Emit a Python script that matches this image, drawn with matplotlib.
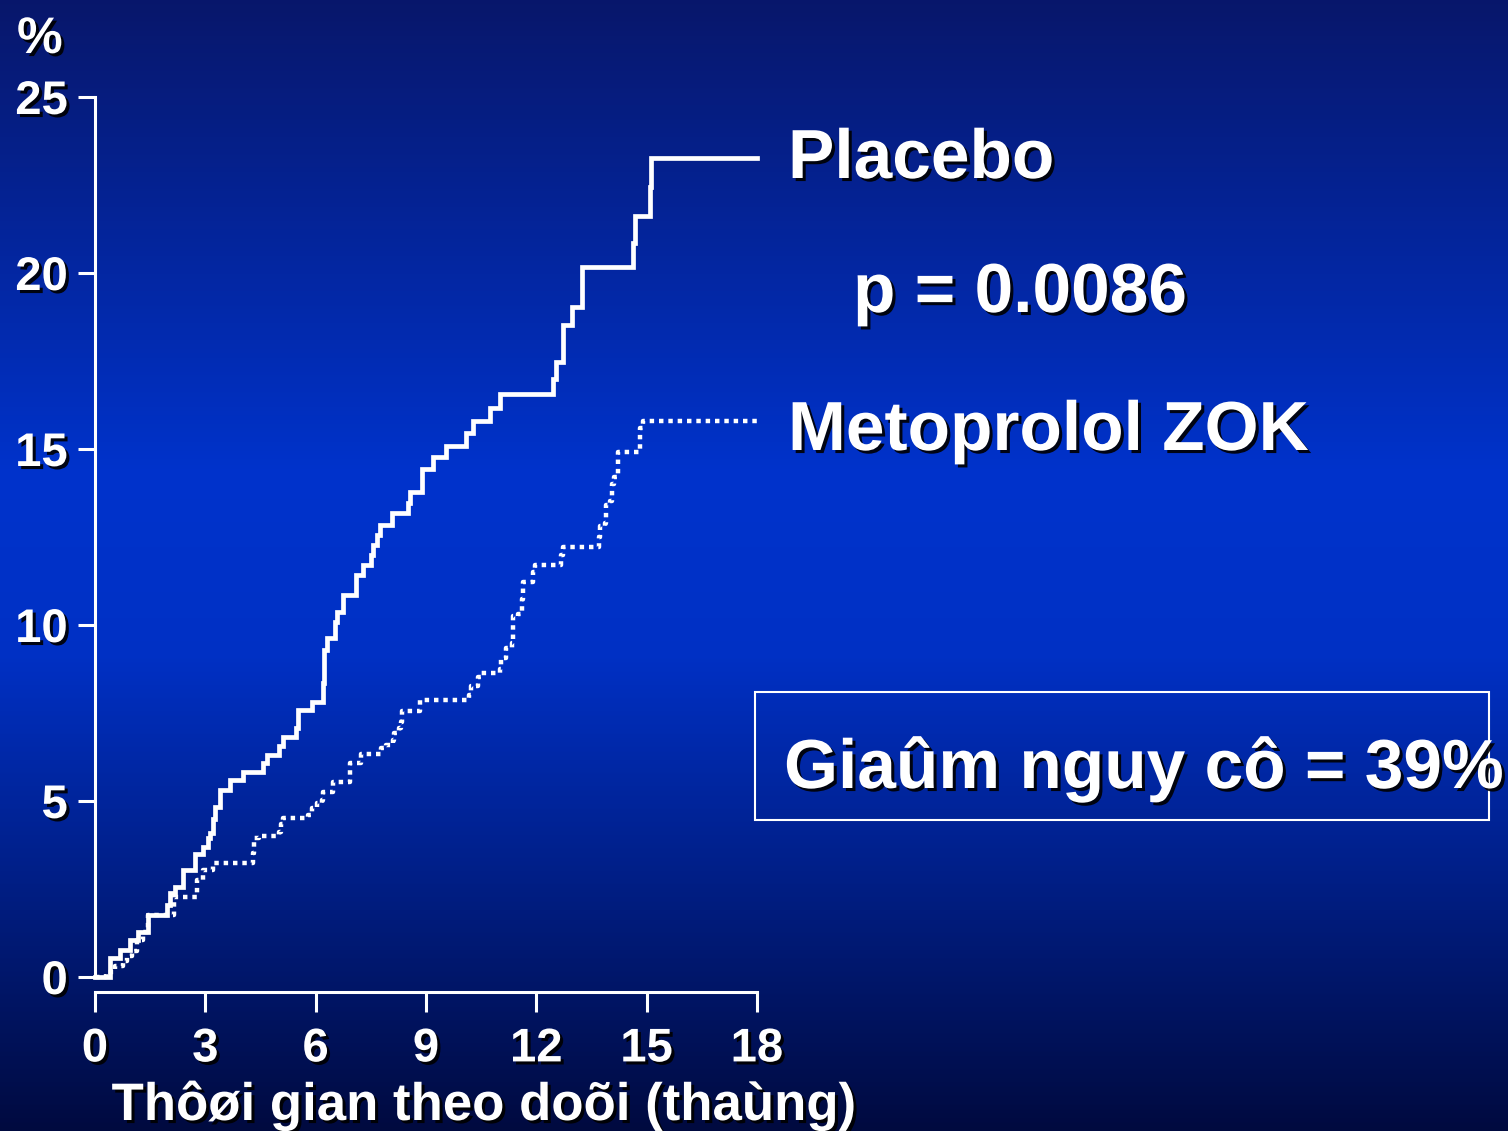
import matplotlib.pyplot as plt
import matplotlib.patheffects as pe
from matplotlib.patches import Rectangle
from matplotlib.colors import LinearSegmentedColormap
import numpy as np

# cumulative event curves, % by month of follow-up
placebo_months = [0, 0.41, 0.68, 0.95, 1.17, 1.44, 1.96, 2.04, 2.18, 2.39,
                  2.72, 2.95, 3.07, 3.13, 3.2, 3.26, 3.4, 3.67, 4.02, 4.57,
                  4.68, 5.0, 5.11, 5.47, 5.52, 5.9, 6.2, 6.23, 6.3, 6.53,
                  6.58, 6.74, 7.1, 7.29, 7.5, 7.56, 7.67, 7.75, 8.07, 8.51,
                  8.56, 8.89, 9.2, 9.54, 10.08, 10.29, 10.74, 11.01, 12.46, 12.53,
                  12.73, 12.96, 13.24, 14.64, 14.68, 15.09, 15.13, 18.0]
placebo_pct = [0, 0.54, 0.77, 1.05, 1.28, 1.76, 2.05, 2.38, 2.56, 3.04,
               3.5, 3.7, 3.95, 4.1, 4.5, 4.83, 5.31, 5.6, 5.82, 6.08,
               6.31, 6.55, 6.82, 7.07, 7.59, 7.81, 8.35, 9.29, 9.63, 10.09,
               10.37, 10.85, 11.42, 11.7, 11.99, 12.27, 12.56, 12.84, 13.18, 13.47,
               13.78, 14.42, 14.76, 15.08, 15.46, 15.8, 16.16, 16.55, 17.0, 17.47,
               18.52, 19.03, 20.16, 20.84, 21.62, 22.45, 23.28, 23.28]

meto_months = [0, 0.3, 0.55, 0.75, 0.88, 1.0, 1.15, 1.3, 1.45,
               2.15, 2.77, 2.95, 3.2, 4.3, 4.33, 4.45, 5.0, 5.05, 5.1,
               5.8, 5.9, 6.03, 6.17, 6.2, 6.47, 6.93, 7.23,
               7.77, 7.9, 8.1, 8.13, 8.27, 8.33, 8.36, 8.84,
               10.18, 10.22, 10.41, 10.5, 11.0, 11.03, 11.17, 11.33, 11.36,
               11.5, 11.6, 11.62, 11.65, 11.9, 11.96, 12.67, 12.73,
               13.7, 13.72, 13.87, 13.9, 14.0, 14.06, 14.1, 14.22,
               14.82, 14.9, 18.0]
meto_pct = [0, 0.15, 0.3, 0.45, 0.6, 0.75, 1.05, 1.28, 1.76,
            2.27, 2.76, 3.04, 3.24, 3.52, 3.95, 4.0, 4.12, 4.35, 4.52,
            4.6, 4.8, 4.94, 5.03, 5.26, 5.55, 6.08, 6.33,
            6.5, 6.6, 6.73, 6.93, 7.06, 7.24, 7.55, 7.87,
            8.0, 8.27, 8.52, 8.64, 8.75, 9.06, 9.35, 9.5, 10.25,
            10.3, 10.48, 10.73, 11.22, 11.5, 11.7, 12.0, 12.23,
            12.5, 12.8, 12.9, 13.4, 13.52, 14.0, 14.2, 14.92,
            15.6, 15.8, 15.8]

x_ticks = [0, 3, 6, 9, 12, 15, 18]
y_ticks = [0, 5, 10, 15, 20, 25]

W, H = 1508, 1131
plt.rcParams['font.family'] = ['Liberation Sans', 'DejaVu Sans']
plt.rcParams['font.weight'] = 'bold'

shadow = [pe.SimplePatchShadow(offset=(2.2, -2.2), shadow_rgbFace='black', alpha=0.9),
          pe.Normal()]

fig = plt.figure(figsize=(W / 100, H / 100), dpi=100)


def fx(px):
    return px / W


def fy(py):
    return (H - py) / H


# slide background: dark navy at the edges, brighter blue through the middle
bg = fig.add_axes([0, 0, 1, 1], zorder=0)
cmap = LinearSegmentedColormap.from_list('slide', [
    (0.0, (0.03, 0.09, 0.42)),
    (0.42, (0.0, 0.20, 0.80)),
    (0.58, (0.0, 0.19, 0.77)),
    (1.0, (0.0, 0.04, 0.25)),
])
bg.imshow(np.linspace(0, 1, 512).reshape(-1, 1), cmap=cmap, aspect='auto',
          extent=[0, 1, 0, 1], origin='upper')
bg.set_axis_off()

ax = fig.add_axes([fx(95), fy(977), fx(757) - fx(95), fy(97) - fy(977)], zorder=1)
ax.set_facecolor('none')

ax.step(meto_months, meto_pct, where='post', color='white', lw=3.2,
        linestyle=(0, (1.0, 1.1)), clip_on=False)
ax.step(placebo_months, placebo_pct, where='post', color='white', lw=3.4,
        clip_on=False, solid_joinstyle='miter')

ax.set_xlim(0, 18)
ax.set_ylim(0, 25)
ax.set_xticks(x_ticks)
ax.set_yticks(y_ticks)

for side in ['top', 'right']:
    ax.spines[side].set_visible(False)
for side in ['left', 'bottom']:
    ax.spines[side].set_color('white')
    ax.spines[side].set_linewidth(2.2)
ax.spines['bottom'].set_position(('outward', 10.8))

ax.tick_params(axis='y', direction='out', length=12.5, width=2.2, color='white',
               labelcolor='white', labelsize=34, pad=7)
ax.tick_params(axis='x', direction='out', length=14.5, width=2.2, color='white',
               labelcolor='white', labelsize=34, pad=11)
for lab in ax.get_xticklabels() + ax.get_yticklabels():
    lab.set_path_effects(shadow)
    lab.set_fontweight('bold')

txt = dict(color='white', fontweight='bold', path_effects=shadow)

fig.text(fx(17), fy(53), '%', fontsize=37, ha='left', va='baseline', **txt)
fig.text(fx(483), fy(1120), 'Thôøi gian theo doõi (thaùng)', fontsize=38,
         ha='center', va='baseline', **txt)

fig.text(fx(788), fy(178), 'Placebo', fontsize=50, ha='left', va='baseline', **txt)
fig.text(fx(853), fy(312), 'p = 0.0086', fontsize=50, ha='left', va='baseline', **txt)
fig.text(fx(788), fy(450), 'Metoprolol ZOK', fontsize=50, ha='left', va='baseline', **txt)

fig.add_artist(Rectangle((fx(755), fy(820)), fx(1489) - fx(755), fy(692) - fy(820),
                         transform=fig.transFigure, fill=False, edgecolor='white',
                         linewidth=1.5, zorder=3))
fig.text(fx(784), fy(788), 'Giaûm nguy cô = 39%', fontsize=50, ha='left',
         va='baseline', zorder=4, **txt)

fig.savefig('out.png', dpi=100)
